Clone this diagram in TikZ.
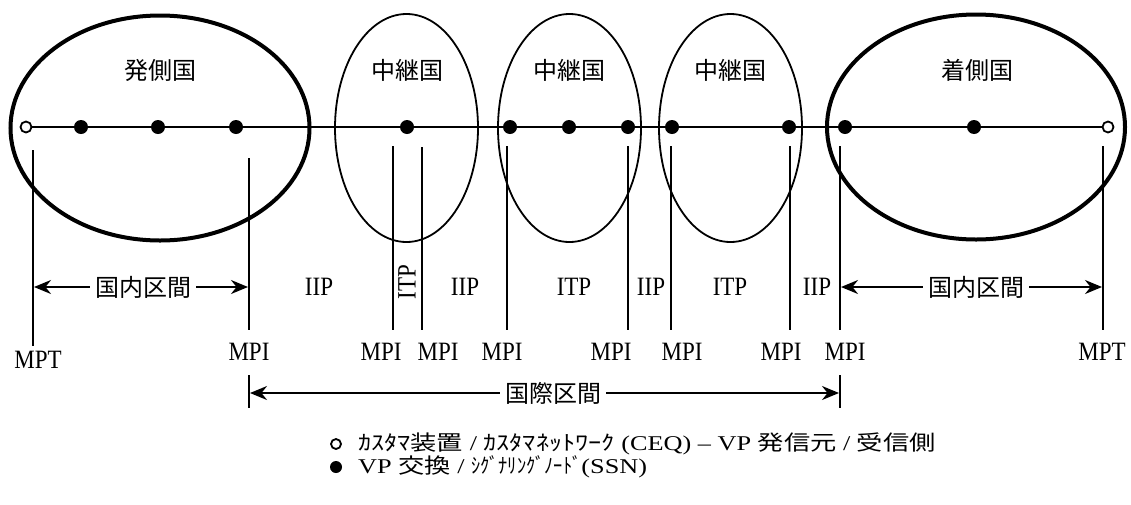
\documentclass[tikz,border=0pt]{standalone}
\usepackage{fontspec}
\setmainfont{Liberation Serif}
\newfontfamily\jp{Noto Sans CJK JP}
\usetikzlibrary{shapes.geometric,arrows.meta,backgrounds}
\newcommand{\lat}[1]{\scalebox{1}[1.15]{#1}}
\begin{document}
\begin{tikzpicture}[x=1pt,y=-1pt,
  thickell/.style={line width=4pt},
  thinell/.style={line width=1.8pt},
  sw/.style={circle, fill=black, inner sep=0pt, minimum size=14pt},
  ceq/.style={circle, draw, line width=1.8pt, fill=white, inner sep=0pt, minimum size=11pt},
  vline/.style={line width=1.8pt},
  lbl/.style={inner sep=0pt, font=\fontsize{23}{25}\selectfont},
  jlbl/.style={inner sep=0pt, font=\fontsize{24}{26}\selectfont\jp},
  seg/.style={inner sep=5pt, font=\fontsize{24}{26}\selectfont\jp},
  arr/.style={line width=1.8pt, -{Stealth[length=17pt,width=14pt]}},
  leg/.style={inner sep=0pt, anchor=west, font=\fontsize{21}{22}\selectfont},
]
\useasboundingbox (0,0) rectangle (1131,504);

% country ellipses
\coordinate (orig) at (160,128);
\coordinate (rel1) at (406.5,128);
\coordinate (rel2) at (569.5,128);
\coordinate (rel3) at (730.5,128);
\coordinate (dest) at (976,127);
\draw[thickell] (orig) ellipse [x radius=149.5pt, y radius=112.5pt];
\draw[thinell] (rel1) ellipse [x radius=71.5pt, y radius=114pt];
\draw[thinell] (rel2) ellipse [x radius=71.5pt, y radius=114pt];
\draw[thinell] (rel3) ellipse [x radius=71.5pt, y radius=114pt];
\draw[thickell] (dest) ellipse [x radius=149pt, y radius=112.5pt];

\node[jlbl] (t-orig) at (160,70) {発側国};
\node[jlbl] (t-rel1) at (407,70) {中継国};
\node[jlbl] (t-rel2) at (569,70) {中継国};
\node[jlbl] (t-rel3) at (730,70) {中継国};
\node[jlbl] (t-dest) at (977,70) {着側国};

% equipment on the path
\node[ceq] (ceqA) at (26,127) {};
\node[sw] (s1) at (81,127) {};
\node[sw] (s2) at (158,127) {};
\node[sw] (s3) at (236,127) {};
\node[sw] (s4) at (407,127) {};
\node[sw] (s5) at (510,127) {};
\node[sw] (s6) at (569,127) {};
\node[sw] (s7) at (628,127) {};
\node[sw] (s8) at (672,127) {};
\node[sw] (s9) at (789,127) {};
\node[sw] (s10) at (845,127) {};
\node[sw] (s11) at (974,127) {};
\node[ceq] (ceqB) at (1108,127) {};
\begin{scope}[on background layer]
  \draw[vline] (ceqA.center) -- (ceqB.center);
\end{scope}

% measurement points
\foreach \n/\x/\t/\b in {a/33/150/346, b/249/158/330, c/393/146/330, d/422/147/330,
  e/507/146/330, f/628/146/330, g/671/146/330, h/790/146/330, i/840/146/330, j/1103/146/330}{
  \coordinate (top-\n) at (\x,\t);
  \coordinate (bot-\n) at (\x,\b);
  \draw[vline] (top-\n) -- (bot-\n);
}

\node[lbl] (mpt1) at (38,360) {\lat{MPT}};
\node[lbl] (mpi1) at (249,352) {\lat{MPI}};
\node[lbl] (mpi2) at (381,352) {\lat{MPI}};
\node[lbl] (mpi3) at (438,352) {\lat{MPI}};
\node[lbl] (mpi4) at (502,352) {\lat{MPI}};
\node[lbl] (mpi5) at (611,352) {\lat{MPI}};
\node[lbl] (mpi6) at (682,352) {\lat{MPI}};
\node[lbl] (mpi7) at (781,352) {\lat{MPI}};
\node[lbl] (mpi8) at (845,352) {\lat{MPI}};
\node[lbl] (mpt2) at (1102,352) {\lat{MPT}};

% portion labels
\node[lbl] (iip1) at (319,287) {\lat{IIP}};
\node[lbl, rotate=90] (itp1) at (407,282) {\lat{ITP}};
\node[lbl] (iip2) at (465,287) {\lat{IIP}};
\node[lbl] (itp2) at (574,287) {\lat{ITP}};
\node[lbl] (iip3) at (651,287) {\lat{IIP}};
\node[lbl] (itp3) at (730,287) {\lat{ITP}};
\node[lbl] (iip4) at (817,287) {\lat{IIP}};

% national portions
\coordinate (d1l) at (34,287);
\coordinate (d1r) at (248,287);
\node[seg] (dom1) at (143,287) {国内区間};
\draw[arr] (dom1.west) -- (d1l);
\draw[arr] (dom1.east) -- (d1r);

\coordinate (d2l) at (841,287);
\coordinate (d2r) at (1102,287);
\node[seg] (dom2) at (976,287) {国内区間};
\draw[arr] (dom2.west) -- (d2l);
\draw[arr] (dom2.east) -- (d2r);

% international portion
\coordinate (it1) at (249,375);
\coordinate (ib1) at (249,408);
\coordinate (it2) at (840,375);
\coordinate (ib2) at (840,408);
\draw[vline] (it1) -- (ib1);
\draw[vline] (it2) -- (ib2);
\coordinate (il) at (250,393);
\coordinate (ir) at (839,393);
\node[seg] (intl) at (553,393) {国際区間};
\draw[arr] (intl.west) -- (il);
\draw[arr] (intl.east) -- (ir);

% legend
\node[ceq, minimum size=10pt] (legA) at (336,444) {};
\node[sw, minimum size=12pt] (legB) at (336,467) {};
\node[leg] (legtA) at (358,444) {\scalebox{1.25}[1]{{\jp ｶｽﾀﾏ装置} / {\jp ｶｽﾀﾏﾈｯﾄﾜｰｸ} (CEQ) – VP {\jp 発信元} / {\jp 受信側}}};
\node[leg] (legtB) at (358,467) {\scalebox{1.25}[1]{VP {\jp 交換} / \scalebox{0.7}[1]{\jp ｼｸﾞﾅﾘﾝｸﾞﾉｰﾄﾞ}(SSN)}};
\end{tikzpicture}
\end{document}
